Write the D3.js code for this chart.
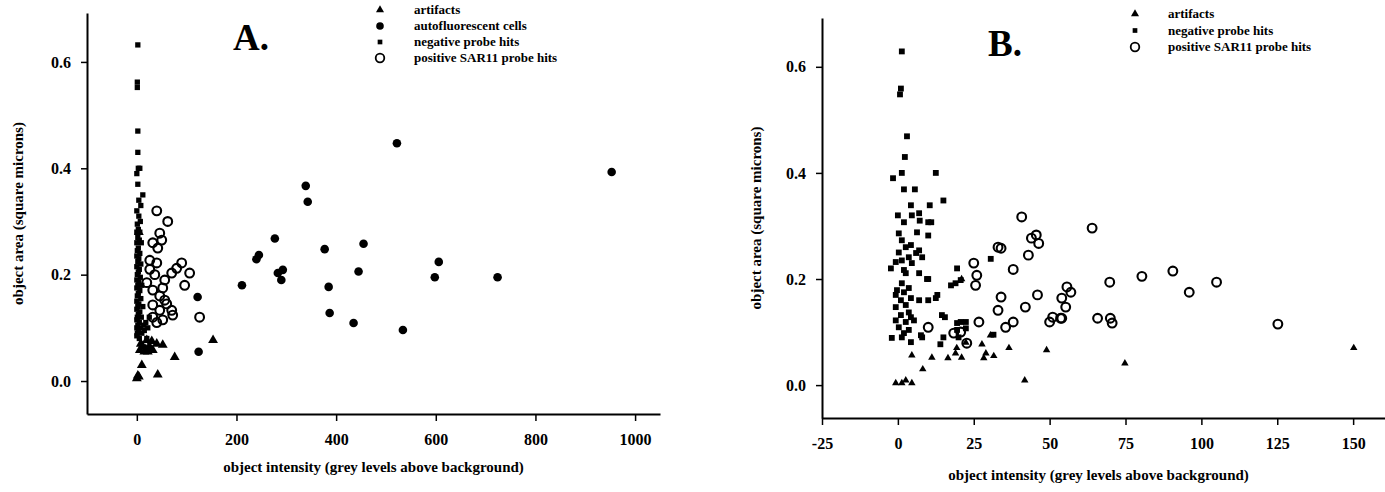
<!DOCTYPE html>
<html><head><meta charset="utf-8">
<script src="https://cdn.jsdelivr.net/npm/d3@7/dist/d3.min.js"></script>
<style>
body{margin:0;background:#fff;}
svg{display:block;}
text{font-family:"Liberation Serif","Times New Roman",serif;font-weight:bold;fill:#000;}
</style></head>
<body>
<svg id="chart" width="1385" height="492"></svg>
<script>
// ---------- DATA ----------
const xTicksA = [0, 200, 400, 600, 800, 1000];
const yTicks = [0.0, 0.2, 0.4, 0.6];
const xTicksB = [-25, 0, 25, 50, 75, 100, 125, 150];
const legendA = ["artifacts", "autofluorescent cells", "negative probe hits", "positive SAR11 probe hits"];
const legendB = ["artifacts", "negative probe hits", "positive SAR11 probe hits"];

const aArtifacts = [[0,0.005],[2,0.01],[4,0.008],[10,0.03],[42,0.012],[76,0.045],[153,0.077],[52,0.068],[6,0.058],[15,0.055],[22,0.055],[28,0.06],[32,0.058],[40,0.07],[20,0.077],[30,0.075],[12,0.065],[25,0.065],[8,0.07],[4,0.28],[18,0.06]];
const aAuto = [[522,0.447],[953,0.393],[339,0.367],[343,0.337],[277,0.268],[377,0.248],[455,0.258],[245,0.237],[240,0.229],[211,0.18],[283,0.203],[293,0.209],[290,0.19],[385,0.177],[387,0.128],[435,0.109],[445,0.206],[606,0.224],[598,0.195],[724,0.195],[534,0.096],[122,0.158],[124,0.055]];
const aNegative = [[2,0.632],[1,0.562],[1,0.552],[2,0.47],[2,0.43],[3,0.40],[0,0.39],[6,0.40],[2,0.37],[12,0.35],[4,0.34],[8,0.33],[0,0.32],[4,0.31],[7,0.30],[1,0.295],[3,0.285],[0,0.28],[6,0.28],[2,0.27],[5,0.265],[0,0.26],[9,0.26],[3,0.25],[1,0.245],[6,0.24],[0,0.235],[4,0.23],[2,0.225],[8,0.22],[0,0.215],[5,0.21],[3,0.205],[1,0.20],[7,0.195],[0,0.19],[4,0.185],[2,0.18],[10,0.18],[0,0.175],[6,0.17],[3,0.165],[1,0.16],[8,0.155],[0,0.15],[4,0.145],[2,0.14],[12,0.14],[0,0.135],[6,0.13],[3,0.125],[1,0.12],[9,0.12],[0,0.115],[5,0.11],[2,0.105],[14,0.105],[0,0.10],[7,0.10],[3,0.095],[1,0.09],[10,0.09],[0,0.085],[5,0.08],[20,0.08],[15,0.095],[18,0.11],[25,0.12],[22,0.10]];
const aPositive = [[40,0.32],[62,0.30],[46,0.278],[50,0.265],[32,0.26],[42,0.25],[26,0.227],[40,0.222],[26,0.21],[90,0.222],[80,0.212],[70,0.203],[106,0.203],[96,0.18],[56,0.19],[32,0.171],[52,0.175],[56,0.152],[32,0.143],[46,0.133],[70,0.133],[72,0.124],[126,0.12],[32,0.12],[52,0.115],[40,0.11],[46,0.16],[60,0.145],[36,0.2],[20,0.185]];

const bArtifacts = [[-0.7,0.004],[1.3,0.004],[2.6,0.009],[4.6,0.004],[4.6,0.056],[8.2,0.03],[11.2,0.052],[16.5,0.051],[19,0.06],[21,0.052],[19.4,0.07],[27.7,0.077],[28.3,0.051],[29,0.06],[31.6,0.055],[36.6,0.07],[41.8,0.009],[49,0.066],[30.5,0.094],[74.8,0.041],[150.2,0.07],[21,0.2],[22.4,0.08]];
const bNegative = [[1.3,0.629],[1.0,0.559],[0.7,0.548],[3,0.469],[2.3,0.43],[1.3,0.40],[-1.6,0.39],[12.5,0.40],[2,0.369],[5.6,0.369],[4.3,0.339],[10.5,0.339],[15,0.348],[0,0.32],[4.6,0.32],[7,0.324],[7.2,0.31],[2,0.307],[10,0.307],[11,0.307],[0.3,0.286],[6.3,0.288],[10,0.282],[1.3,0.273],[2.6,0.26],[0.3,0.25],[4.3,0.264],[7,0.254],[6,0.249],[3.6,0.241],[1.3,0.235],[-0.7,0.232],[4.6,0.23],[8,0.241],[-2.3,0.22],[2,0.217],[2.6,0.211],[7,0.211],[10,0.2],[19.5,0.22],[17.5,0.188],[19,0.192],[20.7,0.198],[1.3,0.192],[-0.3,0.179],[2,0.175],[3.6,0.183],[-0.7,0.17],[1,0.16],[4.3,0.164],[7,0.16],[10,0.16],[12.5,0.164],[13,0.17],[-0.7,0.147],[2.6,0.151],[3.6,0.137],[1,0.132],[4.3,0.128],[-0.7,0.122],[2.6,0.119],[5.3,0.122],[14.5,0.132],[15.5,0.128],[0.3,0.109],[3.6,0.104],[2,0.098],[-2,0.089],[1.3,0.09],[4.3,0.081],[7.6,0.094],[8,0.09],[19.5,0.104],[19.5,0.117],[20.7,0.119],[22.4,0.119],[22.4,0.107],[15,0.09],[14,0.077],[20,0.09],[30.6,0.238],[31.5,0.095],[9.6,0.2]];
const bPositive = [[40.8,0.317],[44,0.277],[45.6,0.283],[33,0.26],[25,0.23],[26,0.207],[25.6,0.188],[34,0.258],[38,0.218],[43,0.245],[46.4,0.267],[34,0.166],[33,0.141],[42,0.147],[46,0.17],[38,0.119],[35.5,0.109],[26.7,0.119],[18.4,0.098],[20.7,0.1],[22.7,0.079],[10,0.109],[50,0.119],[51,0.128],[54,0.126],[55.7,0.185],[57,0.175],[54,0.164],[55.3,0.147],[53.6,0.126],[64,0.296],[65.8,0.126],[69.8,0.194],[70,0.126],[70.6,0.117],[80.4,0.205],[90.6,0.215],[96,0.175],[105,0.194],[125.2,0.115]];

// ---------- DRAW ----------
const svg = d3.select("#chart");

function panel(cfg){
  const g = svg.append("g");
  const x = d3.scaleLinear().domain(cfg.xDomain).range([cfg.left, cfg.right]);
  const y = d3.scaleLinear().domain(cfg.yDomain).range([cfg.bottom, cfg.top]);

  const xAxis = g.append("g").attr("transform",`translate(0,${cfg.bottom})`)
    .call(d3.axisBottom(x).tickValues(cfg.xTicks).tickSize(7).tickSizeOuter(0).tickPadding(13).tickFormat(d=>String(d)));
  const yAxis = g.append("g").attr("transform",`translate(${cfg.left},0)`)
    .call(d3.axisLeft(y).tickValues(yTicks).tickSize(6).tickSizeOuter(0).tickPadding(10).tickFormat(d3.format(".1f")));
  [xAxis,yAxis].forEach(a=>{
    a.select(".domain").attr("stroke","#000").attr("stroke-width",2);
    a.selectAll(".tick line").attr("stroke","#000").attr("stroke-width",1.5);
    a.selectAll(".tick text").style("font-size","16px").style("font-family","'Liberation Serif',serif").style("font-weight","bold").attr("fill","#000");
  });

  const tri = d3.symbol().type(d3.symbolTriangle).size(cfg.triSize);
  const sq = d3.symbol().type(d3.symbolSquare).size(cfg.sqSize);

  g.append("g").selectAll("path").data(cfg.negative).join("path")
    .attr("d", sq).attr("transform", d=>`translate(${x(d[0])},${y(d[1])})`).attr("fill","#000");
  if (cfg.auto) g.append("g").selectAll("circle").data(cfg.auto).join("circle")
    .attr("cx", d=>x(d[0])).attr("cy", d=>y(d[1])).attr("r", 4.3).attr("fill","#000");
  g.append("g").selectAll("path").data(cfg.artifacts).join("path")
    .attr("d", tri).attr("transform", d=>`translate(${x(d[0])},${y(d[1])})`).attr("fill","#000");
  g.append("g").selectAll("circle").data(cfg.positive).join("circle")
    .attr("cx", d=>x(d[0])).attr("cy", d=>y(d[1])).attr("r", 4.4)
    .attr("fill","none").attr("stroke","#000").attr("stroke-width",2.1);

  // title
  g.append("text").attr("x", cfg.titleX).attr("y", cfg.titleY).style("font-size","37px").text(cfg.title);

  // axis labels
  g.append("text").attr("x", (cfg.left+cfg.right)/2 + cfg.xLabelDx).attr("y", cfg.xLabelY)
    .attr("text-anchor","middle").style("font-size","15px").text("object intensity (grey levels above background)");
  g.append("text").attr("transform",`translate(${cfg.yLabelX},${(cfg.top+cfg.bottom)/2})rotate(-90)`)
    .attr("text-anchor","middle").style("font-size","15px").text("object area (square microns)");

  // legend
  const lg = g.append("g");
  cfg.legend.forEach((name,i)=>{
    const yy = cfg.legY + i*cfg.legStep;
    let m;
    if (name==="artifacts") m = lg.append("path").attr("d", d3.symbol().type(d3.symbolTriangle).size(28)()).attr("fill","#000");
    else if (name==="autofluorescent cells") m = lg.append("circle").attr("r",3.8).attr("fill","#000");
    else if (name==="negative probe hits") m = lg.append("path").attr("d", d3.symbol().type(d3.symbolSquare).size(22)()).attr("fill","#000");
    else m = lg.append("circle").attr("r",4.3).attr("fill","none").attr("stroke","#000").attr("stroke-width",1.8);
    m.attr("transform",`translate(${cfg.legSymX},${yy-4})`);
    lg.append("text").attr("x", cfg.legTextX).attr("y", yy).style("font-size","13px").text(name);
  });
}

panel({
  xDomain:[-100,1050], yDomain:[-0.062,0.692], left:87, right:660, top:13, bottom:414,
  xTicks:xTicksA, artifacts:aArtifacts, auto:aAuto, negative:aNegative, positive:aPositive,
  triSize:42, sqSize:28, title:"A.", titleX:233, titleY:50,
  xLabelDx:0, xLabelY:472, yLabelX:23,
  legend:legendA, legY:14, legStep:16, legSymX:380, legTextX:414
});
panel({
  xDomain:[-25,160.5], yDomain:[-0.062,0.692], left:822, right:1385, top:18, bottom:418,
  xTicks:xTicksB, artifacts:bArtifacts, auto:null, negative:bNegative, positive:bPositive,
  triSize:24, sqSize:34, title:"B.", titleX:988, titleY:56,
  xLabelDx:-5, xLabelY:480, yLabelX:761,
  legend:legendB, legY:18, legStep:16.5, legSymX:1135, legTextX:1168
});
</script>
</body></html>
